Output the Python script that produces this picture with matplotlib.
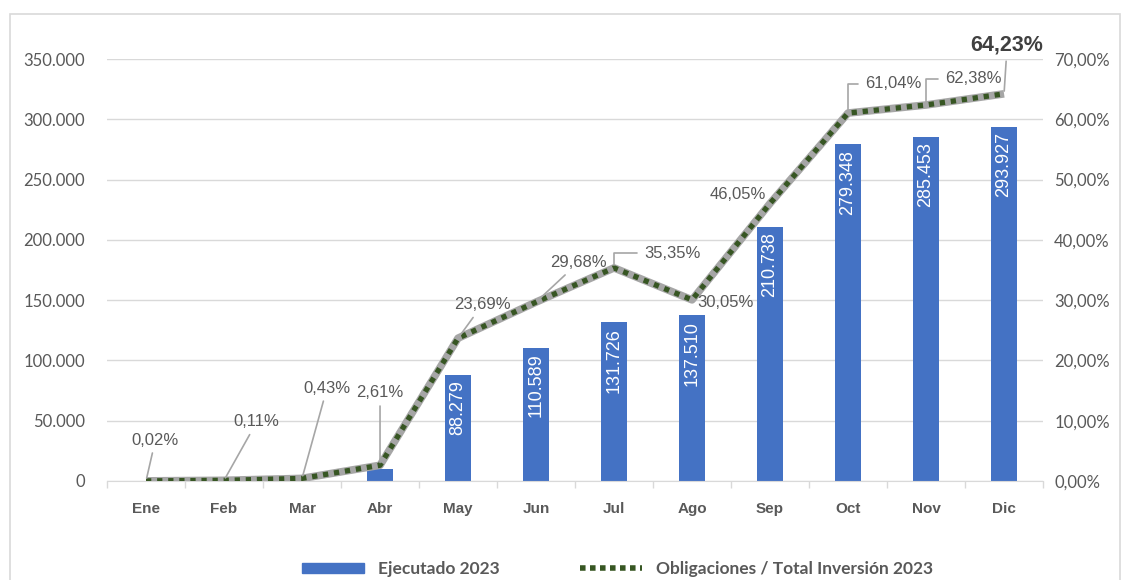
import matplotlib.pyplot as plt
from matplotlib.lines import Line2D
from matplotlib.patches import Rectangle

meses = ['Ene', 'Feb', 'Mar', 'Abr', 'May', 'Jun', 'Jul', 'Ago', 'Sep', 'Oct', 'Nov', 'Dic']
ejecutado = [0, 0, 0, 9800, 88279, 110589, 131726, 137510, 210738, 279348, 285453, 293927]
etiquetas_barras = ['', '', '', '', '88.279', '110.589', '131.726', '137.510',
                    '210.738', '279.348', '285.453', '293.927']
obligaciones = [0.02, 0.11, 0.43, 2.61, 23.69, 29.68, 35.35, 30.05, 46.05, 61.04, 62.38, 64.23]

# where each percentage label sits (x in category units, y in %) and how its leader line looks
pos_etiquetas = [(0.12, 6.8), (1.42, 9.8), (2.32, 15.4), (3.0, 14.6), (4.31, 29.2), (5.54, 36.2),
                 (6.75, 37.8), (7.43, 29.6), (7.59, 47.6), (9.58, 65.9), (10.61, 66.7), (11.04, 72.3)]
lideres = ['recta', 'recta', 'recta', 'recta', 'recta', 'recta',
           'codo', None, None, 'codo', 'codo', 'recta']

gris = '#595959'
azul = '#4472C4'
verde = '#375623'

fig = plt.figure(figsize=(11.23, 5.8), dpi=100)
fig.patches.append(Rectangle((0.009, -0.01), 0.988, 0.986, transform=fig.transFigure,
                             fill=False, edgecolor='#D9D9D9', linewidth=1.2))

ax = fig.add_axes([0.0953, 0.1707, 0.8335, 0.7275])
x = list(range(len(meses)))
ax.bar(x, ejecutado, width=0.33, color=azul, zorder=2)
for xi, v, t in zip(x, ejecutado, etiquetas_barras):
    if t:
        ax.annotate(t, (xi, v), xytext=(0, -4), textcoords='offset points', rotation=90,
                    ha='center', va='top', color='white', fontsize=13,
                    family='Liberation Sans', zorder=3)

ax.set_xlim(-0.5, 11.5)
ax.set_ylim(0, 350000)
ax.set_yticks(range(0, 350001, 50000))
ax.set_yticklabels([f'{v:,}'.replace(',', '.') for v in range(0, 350001, 50000)],
                   family='Lato', fontsize=12, color=gris)
ax.set_xticks(x)
ax.set_xticklabels(meses, family='Liberation Sans', fontsize=11, fontweight='bold', color=gris)
ax.set_xticks([i - 0.5 for i in range(13)], minor=True)
ax.tick_params(axis='x', which='major', length=0, pad=15)
ax.tick_params(axis='x', which='minor', length=5, color='#D9D9D9', width=1)
ax.tick_params(axis='y', length=0, pad=16)
ax.grid(axis='y', color='#D9D9D9', linewidth=1, zorder=0)
ax.set_axisbelow(True)
for s in ['top', 'right', 'left']:
    ax.spines[s].set_visible(False)
ax.spines['bottom'].set_color('#D9D9D9')

ax2 = ax.twinx()
ax2.plot(x, obligaciones, color='#A6A6A6', linewidth=5.5, solid_capstyle='butt', zorder=3)
ax2.plot(x, obligaciones, color=verde, linewidth=3.8, linestyle=(0, (1, 1.1)),
         dash_capstyle='butt', zorder=4)
ax2.set_ylim(0, 70)
ax2.set_yticks(range(0, 71, 10))
ax2.set_yticklabels([f'{v},00%' for v in range(0, 71, 10)], family='Lato', fontsize=12, color=gris)
ax2.tick_params(axis='y', length=0, pad=8)
for s in ax2.spines.values():
    s.set_visible(False)

for i, (v, p, l) in enumerate(zip(obligaciones, pos_etiquetas, lideres)):
    txt = f'{v:.2f}%'.replace('.', ',')
    ultimo = i == len(obligaciones) - 1
    kw = dict(ha='center', va='center', family='Liberation Sans', annotation_clip=False,
              fontsize=15.5 if ultimo else 12, color='#404040' if ultimo else gris,
              fontweight='bold' if ultimo else 'normal', zorder=5)
    if l == 'recta':
        kw['arrowprops'] = dict(arrowstyle='-', color='#A6A6A6', lw=1.2, shrinkA=2, shrinkB=2)
    elif l == 'codo':
        kw['arrowprops'] = dict(arrowstyle='-', color='#A6A6A6', lw=1.2, shrinkA=3, shrinkB=2,
                                relpos=(0, 0.5), connectionstyle='angle,angleA=0,angleB=90,rad=0')
    ax2.annotate(txt, (i, v), xytext=p, textcoords='data', **kw)

handles = [Rectangle((0, 0), 1, 1, color=azul),
           Line2D([0], [0], color=verde, linewidth=4, linestyle=(0, (1, 0.8)), dash_capstyle='butt')]
fig.legend(handles, ['Ejecutado 2023', 'Obligaciones / Total Inversión 2023'],
           loc='lower center', bbox_to_anchor=(0.55, -0.022), ncol=2, frameon=False,
           handlelength=3.6, handleheight=0.55, columnspacing=4.6,
           prop=dict(family='Lato', size=12.5, weight='bold'), labelcolor=gris)

fig.savefig('out.png', dpi=100)
